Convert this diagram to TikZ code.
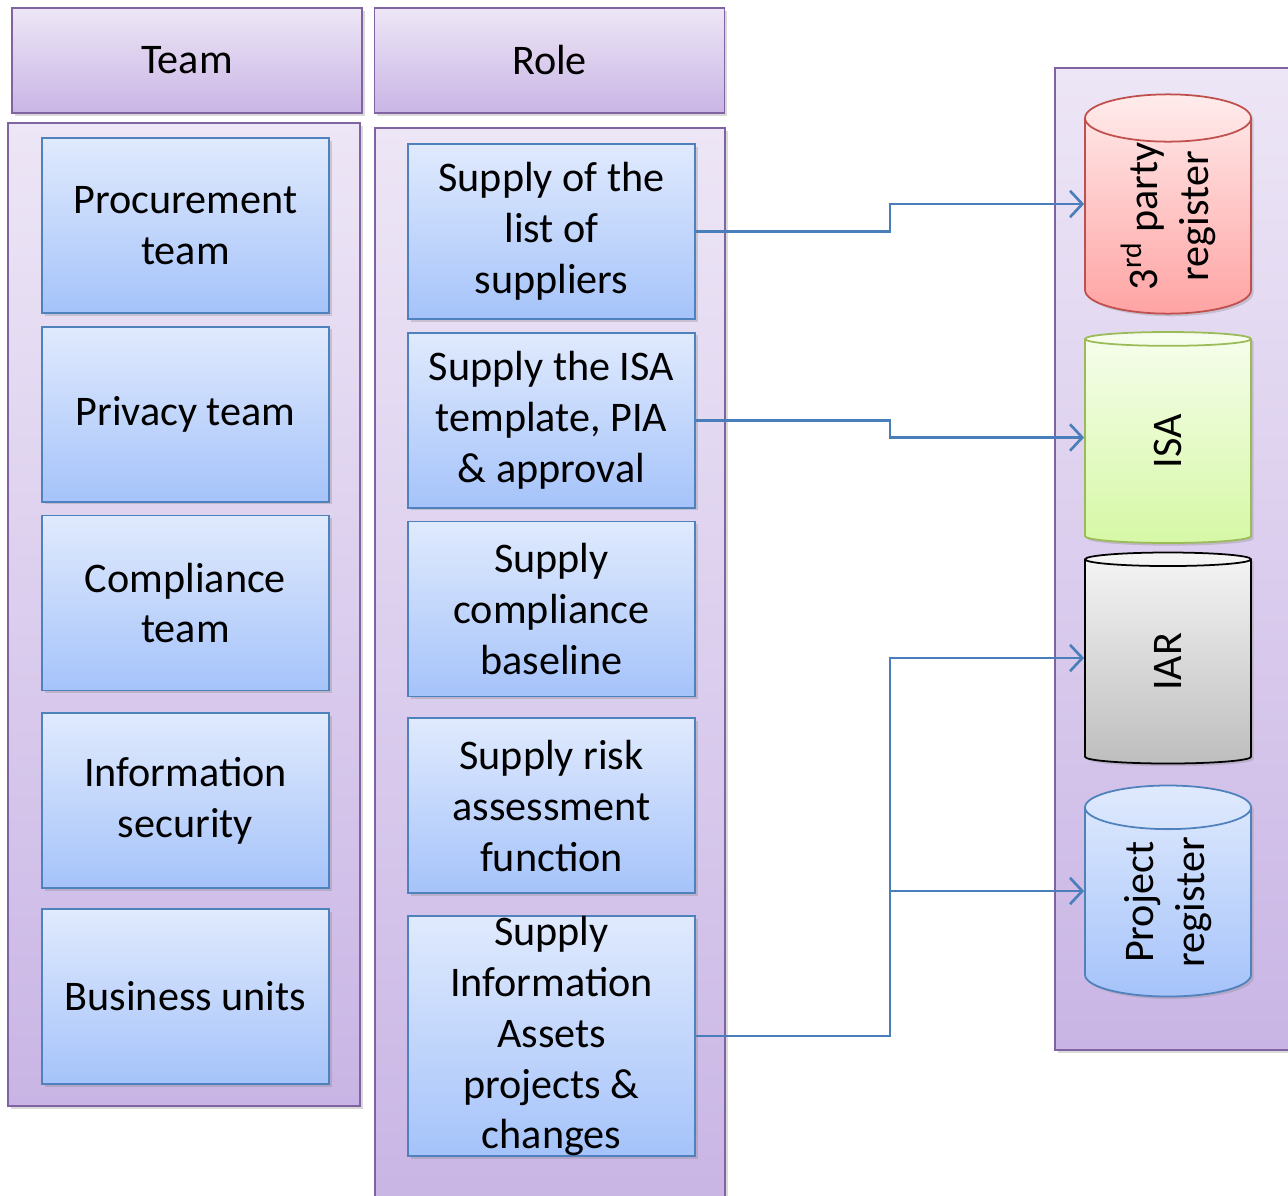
\documentclass[tikz,border=0pt]{standalone}
\usepackage{fontspec}
\setmainfont{Carlito}
\usetikzlibrary{positioning, shapes.geometric, shadows, arrows.meta}

\definecolor{paneltop}{RGB}{237,230,246}
\definecolor{panelbot}{RGB}{201,181,229}
\definecolor{panelline}{RGB}{128,100,162}
\definecolor{boxtop}{RGB}{224,234,253}
\definecolor{boxbot}{RGB}{165,195,250}
\definecolor{boxline}{RGB}{79,129,189}
\definecolor{linkblue}{RGB}{74,126,187}
\definecolor{redtop}{RGB}{255,236,236}
\definecolor{redbot}{RGB}{255,163,163}
\definecolor{redline}{RGB}{192,80,77}
\definecolor{greentop}{RGB}{246,253,237}
\definecolor{greenbot}{RGB}{214,248,166}
\definecolor{greenline}{RGB}{155,187,89}
\definecolor{greytop}{RGB}{245,245,245}
\definecolor{greybot}{RGB}{190,190,190}

\begin{document}
\begin{tikzpicture}[
            every node/.style={font=\fontsize{24}{29}\selectfont, align=center},
            shade/.style={drop shadow={shadow xshift=1.5pt, shadow yshift=-1.5pt, opacity=0.3}},
            panel/.style={draw=panelline, line width=1pt, top color=paneltop, bottom color=panelbot, inner sep=0pt, shade},
            header/.style={panel, minimum width=7cm, minimum height=2.1cm},
            teambox/.style={draw=boxline, line width=1pt, top color=boxtop, bottom color=boxbot, minimum width=5.74cm, minimum height=3.5cm, inner sep=2pt, shade},
            db/.style={cylinder, rotate=90, aspect=0.5, line width=1pt, minimum width=3.32cm, minimum height=4.22cm, inner sep=0pt, anchor=shape center, shade},
            link/.style={draw=linkblue, line width=1.5pt, -{Straight Barb[length=7pt, width=15pt]}},
        ]
            \useasboundingbox (0,0) rectangle (25.76,-23.9);

            \node[header] (teamhead) at (3.74,-1.21) {Team};
            \node[header] (rolehead) at (10.99,-1.21) {Role};

            \node[panel, minimum width=7.04cm, minimum height=19.66cm] (teamcol) at (3.68,-12.29) {};
            \node[panel, minimum width=7cm, minimum height=21.64cm] (rolecol) at (11,-13.38) {};
            \node[panel, minimum width=5cm, minimum height=19.64cm] (storecol) at (23.6,-11.18) {};

            \node[teambox] (t1) at (3.71,-4.51) {Procurement\\team};
            \node[teambox, below=0.24cm of t1] (t2) {Privacy team};
            \node[teambox, below=0.24cm of t2] (t3) {Compliance\\team};
            \node[teambox, below=0.42cm of t3] (t4) {Information\\security};
            \node[teambox, below=0.38cm of t4] (t5) {Business units};

            \node[teambox] (r1) at (11.03,-4.63) {Supply of the\\list of\\suppliers};
            \node[teambox, below=0.24cm of r1] (r2) {Supply the ISA\\template, PIA\\\& approval};
            \node[teambox, below=0.24cm of r2] (r3) {Supply\\compliance\\baseline};
            \node[teambox, below=0.40cm of r3] (r4) {Supply risk\\assessment\\function};
            \node[teambox, below=0.42cm of r4, minimum height=4.8cm,
                label={center:Supply\\Information\\Assets\\projects \&\\changes}] (r5) {};

            \node[db, draw=redline, top color=redtop, bottom color=redbot] (db1) at (23.36,-4.08) {3\textsuperscript{rd} party\\register};
            \node[db, draw=greenline, top color=greentop, bottom color=greenbot] (db2) at (23.36,-8.75) {ISA};
            \node[db, draw=black, top color=greytop, bottom color=greybot] (db3) at (23.36,-13.16) {IAR};
            \node[db, draw=boxline, top color=boxtop, bottom color=boxbot] (db4) at (23.36,-17.82) {Project\\register};

            \coordinate (bend) at (17.8,0);
            \coordinate (split) at (r5.east -| bend);
            \draw[link] (r1.east) -- (r1.east -| bend) |- (db1.north |- db1.shape center);
            \draw[link] (r2.east) -- (r2.east -| bend) |- (db2.north |- db2.shape center);
            \draw[link] (r5.east) -- (split) |- (db3.north |- db3.shape center);
            \draw[link] (split) |- (db4.north |- db4.shape center);
        \end{tikzpicture}
\end{document}
